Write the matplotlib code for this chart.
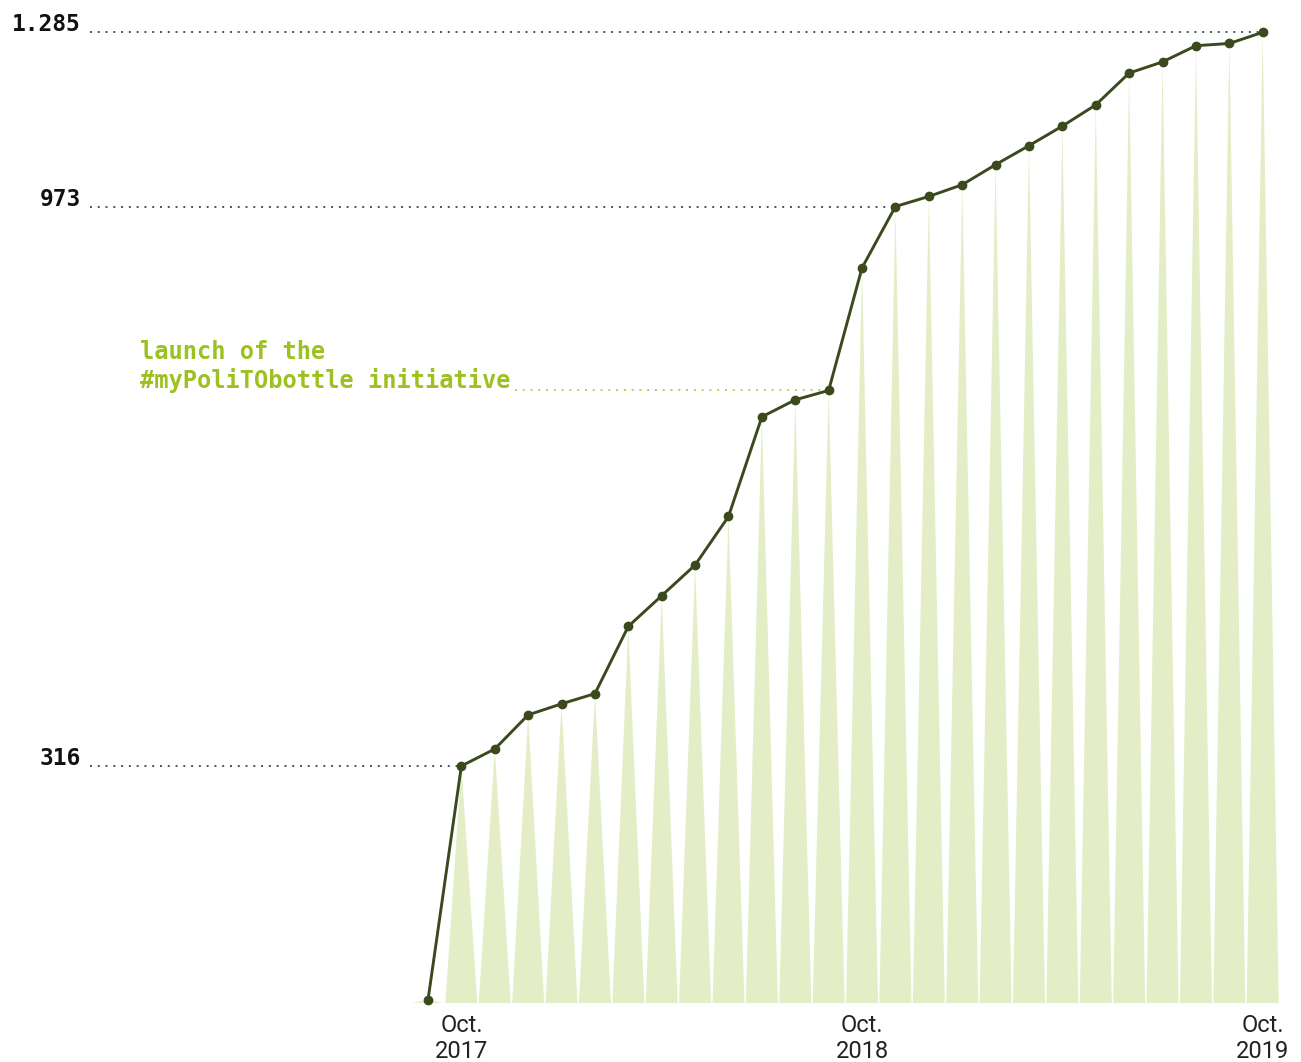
import matplotlib.pyplot as plt
import numpy as np

# monthly cumulative count, Sep 2017 .. Oct 2019
months = ["Sep 2017", "Oct 2017", "Nov 2017", "Dec 2017",
          "Jan 2018", "Feb 2018", "Mar 2018", "Apr 2018", "May 2018", "Jun 2018",
          "Jul 2018", "Aug 2018", "Sep 2018", "Oct 2018", "Nov 2018", "Dec 2018",
          "Jan 2019", "Feb 2019", "Mar 2019", "Apr 2019", "May 2019", "Jun 2019",
          "Jul 2019", "Aug 2019", "Sep 2019", "Oct 2019"]
bottles = [4, 316, 336, 376, 389, 401, 480, 516, 552, 609, 726, 746, 757,
           901, 973, 991, 1012, 1048, 1082, 1117, 1155, 1212, 1232, 1261, 1265, 1285]

# values called out on the left
marked_idx = [1, 14, 25]
marked_labels = ["316", "973", "1.285"]

launch_idx = 12
launch_text = ["launch of the", "#myPoliTObottle initiative"]

xtick_idx = [1, 13, 25]
xtick_labels = [("Oct.", "2017"), ("Oct.", "2018"), ("Oct.", "2019")]

# the original's vertical axis is not linear: piecewise mapping value -> pixel height
scale_vals = [-100, 0, 316, 973, 1285, 2000]
scale_px = [-75, 0, 237, 796.5, 970.7, 1370]


def fwd(v):
    return np.interp(v, scale_vals, scale_px)


def inv(p):
    return np.interp(p, scale_px, scale_vals)


W, H = 1301, 1062
fig = plt.figure(figsize=(W / 100, H / 100), dpi=100)
ax = fig.add_axes([90 / W, 1 - 1003 / H, 1200 / W, 983 / H])
ax.set_yscale("function", functions=(fwd, inv))
ax.set_ylim(0, inv(983))

step = (1262.7 - 428) / 25  # pixels per month
x0 = (90 - 428) / step
ax.set_xlim(x0, x0 + 1200 / step)
ax.axis("off")

x = np.arange(len(bottles))

# triangular spikes under each point
for i, v in zip(x, bottles):
    ax.fill([i - 0.48, i, i + 0.48], [0, v, 0], color="#e3eec7", lw=0, zorder=1)

ax.plot(x, bottles, color="#3a4a1d", lw=2.1, marker="o", ms=6, zorder=4, clip_on=False)

# dotted guides + labels for marked values
for i, lab in zip(marked_idx, marked_labels):
    v = bottles[i]
    ax.plot([x0, i], [v, v], color="#44565a", lw=1.4, ls=(0, (1, 3)), zorder=2)
    ax.annotate(lab, (x0, v), xytext=(-9, 1), textcoords="offset pixels",
                ha="right", va="baseline", fontfamily="DejaVu Sans Mono",
                fontweight="bold", fontsize=16.5, color="#111111")

# launch annotation
green = "#9dc11e"
lv = bottles[launch_idx]
tx = (140 - 428) / step
ax.plot([(515 - 428) / step, launch_idx], [lv, lv], color="#b5d04a", lw=1.4,
        ls=(0, (1, 3)), zorder=2)
for k, line in enumerate(launch_text):
    ax.annotate(line, (tx, lv), xytext=(0, 2 + 29 * (1 - k)), textcoords="offset pixels",
                ha="left", va="baseline", fontfamily="DejaVu Sans Mono",
                fontweight="bold", fontsize=17, color=green)

# x labels
for i, (m, yr) in zip(xtick_idx, xtick_labels):
    ax.annotate(m, (i, 0), xytext=(0, -29), textcoords="offset pixels",
                ha="center", va="baseline", fontfamily="Roboto",
                fontsize=17, color="#222222")
    ax.annotate(yr, (i, 0), xytext=(0, -55), textcoords="offset pixels",
                ha="center", va="baseline", fontfamily="Roboto",
                fontsize=17, color="#222222")

fig.savefig("out.png", dpi=100)
